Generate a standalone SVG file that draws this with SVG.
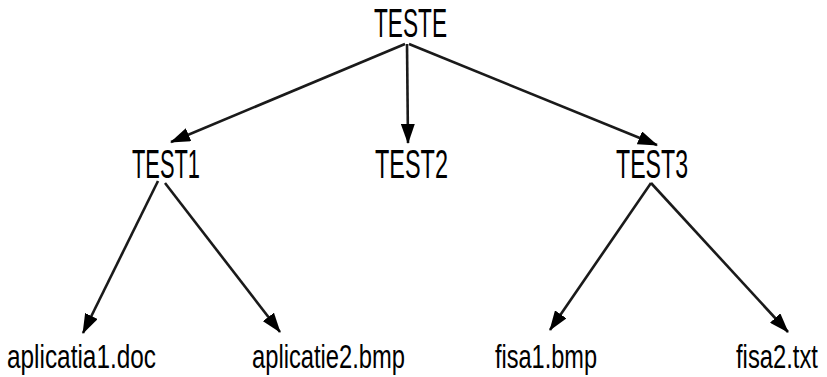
<svg xmlns="http://www.w3.org/2000/svg" width="827" height="377" viewBox="0 0 827 377">
<style>
  .lbl { font-family: "Liberation Sans", Arial, sans-serif; fill: #000; }
  .top { font-size: 40px; }
  .leaf { font-size: 34px; }
  .edge { stroke: #1a1a1a; stroke-width: 2.6; fill: none; marker-end: url(#arrow); }
</style>
<defs>
  <marker id="arrow" markerUnits="userSpaceOnUse" markerWidth="20" markerHeight="14" refX="19" refY="7" orient="auto">
    <path d="M0,0 L20,7 L0,14 z" fill="#000"/>
  </marker>
</defs>
<rect width="827" height="377" fill="#fff"/>
<g id="connectors">
  <line class="edge" x1="405" y1="44" x2="171" y2="142"/>
  <line class="edge" x1="407" y1="44" x2="408" y2="143"/>
  <line class="edge" x1="409" y1="44" x2="657" y2="145"/>
  <line class="edge" x1="158" y1="181" x2="83" y2="333"/>
  <line class="edge" x1="165" y1="183" x2="280" y2="332"/>
  <line class="edge" x1="651" y1="183" x2="550" y2="330"/>
  <line class="edge" x1="651" y1="183" x2="788" y2="332"/>
</g>
<g id="node-teste"><text class="lbl top" x="374" y="37" textLength="73" lengthAdjust="spacingAndGlyphs">TESTE</text></g>
<g id="node-test1"><text class="lbl top" x="132" y="178" textLength="68" lengthAdjust="spacingAndGlyphs">TEST1</text></g>
<g id="node-test2"><text class="lbl top" x="375" y="178" textLength="73" lengthAdjust="spacingAndGlyphs">TEST2</text></g>
<g id="node-test3"><text class="lbl top" x="616" y="178" textLength="72" lengthAdjust="spacingAndGlyphs">TEST3</text></g>
<g id="node-aplicatia1"><text class="lbl leaf" x="7" y="368" textLength="149" lengthAdjust="spacingAndGlyphs">aplicatia1.doc</text></g>
<g id="node-aplicatie2"><text class="lbl leaf" x="252" y="368" textLength="153" lengthAdjust="spacingAndGlyphs">aplicatie2.bmp</text></g>
<g id="node-fisa1"><text class="lbl leaf" x="495" y="368" textLength="102" lengthAdjust="spacingAndGlyphs">fisa1.bmp</text></g>
<g id="node-fisa2"><text class="lbl leaf" transform="translate(736,368) scale(0.7,1)" x="0" y="0">fisa2.txt</text></g>
</svg>
